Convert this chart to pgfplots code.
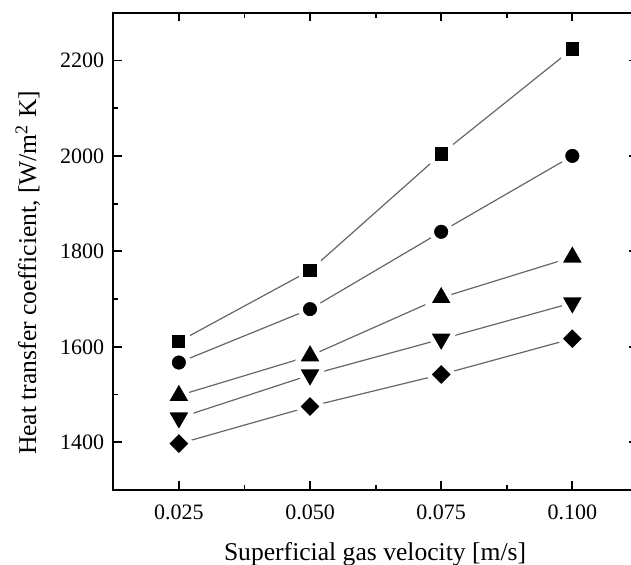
\documentclass[border=0pt]{standalone}
\usepackage{pgfplots}
\pgfplotsset{compat=1.18}
\usepackage{pgfplotstable}
\usepackage{fontspec}
\setmainfont{Liberation Serif}

\pgfplotstableread{
x sq ci up dn di
0.025 1611 1567 1498 1451 1397
0.050 1760 1679 1581 1541 1475
0.075 2004 1841 1703 1616 1542
0.100 2224 2000 1788 1692 1617
}\data

\pgfplotsset{ser/.style={color=black!60, line width=0.6pt,
  mark options={solid, fill=black, draw=white, line width=2.4pt, line join=round, rotate=#1}},
  ser/.default=0}

\begin{document}
\begin{tikzpicture}
\begin{axis}[
  scale only axis, width=262.3pt, height=238.65pt,
  xmin=0.0125, xmax=0.1125, ymin=1300, ymax=2300,
  xtick={0.025,0.05,0.075,0.1}, xticklabels={0.025,0.050,0.075,0.100},
  ytick={1400,1600,1800,2000,2200}, yticklabels={1400,1600,1800,2000,2200},
  minor x tick num=1, minor y tick num=1,
  tick align=inside,
  major tick length=4.3pt, minor tick length=2.5pt,
  axis line style={line width=0.9pt},
  every tick/.style={black, line width=0.9pt},
  tick label style={font=\fontsize{11}{13}\selectfont},
  xticklabel style={yshift=-4pt},
  yticklabel style={xshift=-1pt},
  label style={font=\fontsize{12.8}{15}\selectfont},
  xlabel={Superficial gas velocity [m/s]},
  ylabel={Heat transfer coefficient, [W/m\textsuperscript{2} K]},
  xlabel style={at={(axis description cs:0.499,-0.135)}, anchor=center},
  ylabel style={at={(axis description cs:-0.163,0.455)}, anchor=center},
]
\addplot[ser, mark=square*, mark size=4.5pt] table[x=x, y=sq] {\data};
\addplot[ser, mark=*, mark size=4.8pt] table[x=x, y=ci] {\data};
\addplot[ser, mark=triangle*, mark size=7.9pt] table[x=x, y=up] {\data};
\addplot[ser=180, mark=triangle*, mark size=7.9pt] table[x=x, y=dn] {\data};
\addplot[ser=45, mark=square*, mark size=4.6pt] table[x=x, y=di] {\data};
\end{axis}
\pgfresetboundingbox
\path[use as bounding box] ([shift={(-56.65pt,-37pt)}]current axis.south west) rectangle ([shift={(258.85pt,6.35pt)}]current axis.north west);
\end{tikzpicture}
\end{document}
